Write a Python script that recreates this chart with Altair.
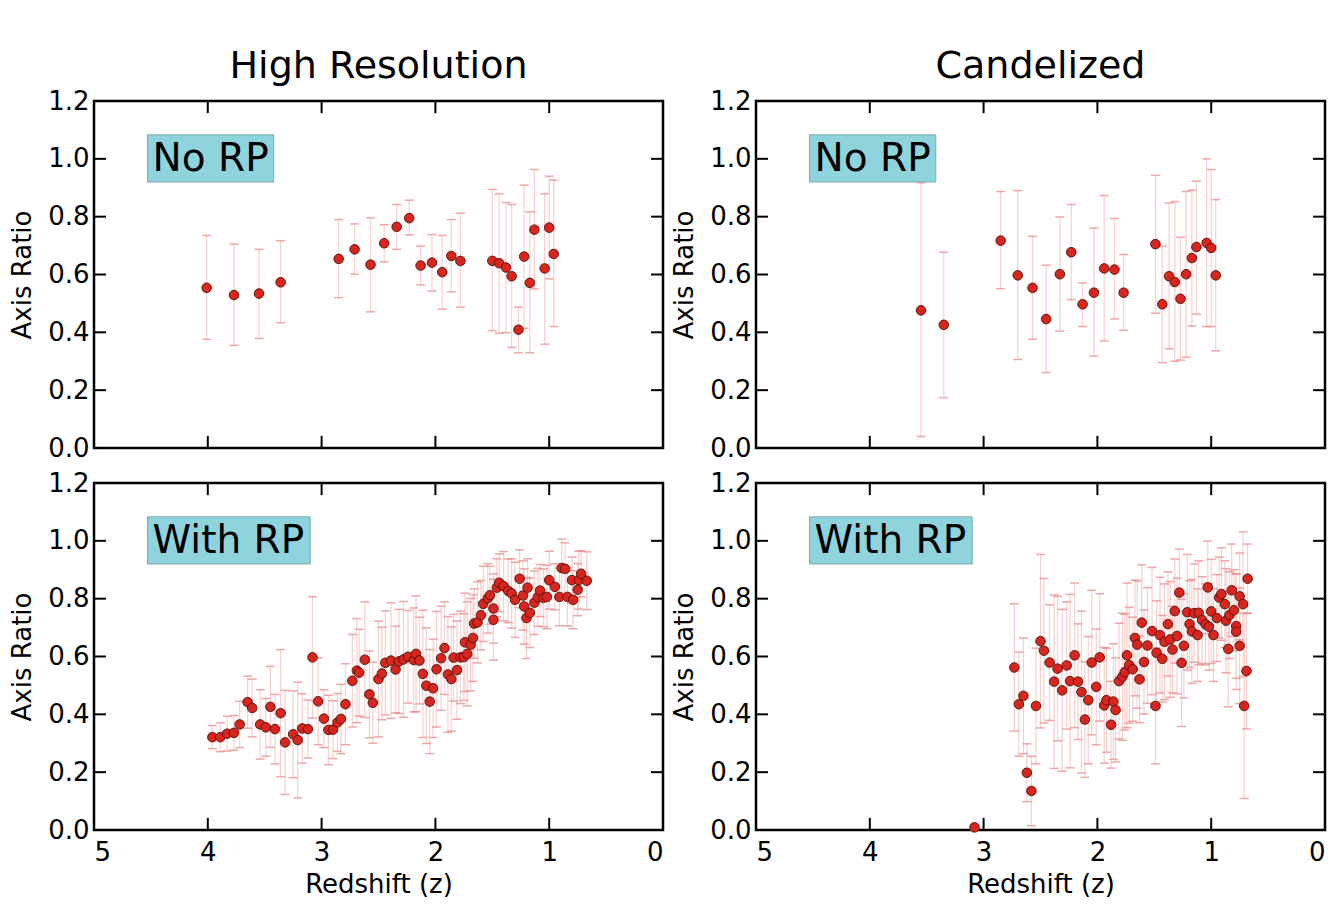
import altair as alt
import pandas as pd

FONT = "DejaVu Sans"

# ---------------- High Resolution, No RP ----------------
hr_norp_z = [4.01, 3.77, 3.55, 3.36, 2.85, 2.71, 2.57, 2.45, 2.34, 2.23, 2.13, 2.03, 1.94, 1.86, 1.78,
             1.50, 1.44, 1.38, 1.33, 1.27, 1.22, 1.17, 1.13, 1.04, 1.00, 0.96]
hr_norp_q = [0.554, 0.529, 0.534, 0.573, 0.654, 0.687, 0.634, 0.708, 0.765, 0.795, 0.631, 0.641, 0.608, 0.664, 0.647,
             0.647, 0.639, 0.624, 0.594, 0.409, 0.662, 0.571, 0.755, 0.621, 0.762, 0.671]
hr_norp_lo = [0.376, 0.355, 0.379, 0.433, 0.520, 0.601, 0.471, 0.644, 0.687, 0.737, 0.564, 0.543, 0.480, 0.540, 0.487,
              0.406, 0.397, 0.399, 0.348, 0.329, 0.414, 0.329, 0.550, 0.359, 0.585, 0.420]
hr_norp_hi = [0.735, 0.705, 0.687, 0.717, 0.790, 0.775, 0.796, 0.772, 0.842, 0.857, 0.698, 0.738, 0.735, 0.790, 0.812,
              0.894, 0.879, 0.849, 0.842, 0.487, 0.909, 0.817, 0.963, 0.879, 0.940, 0.926]

# ---------------- Candelized, No RP ----------------
ca_norp_z = [3.55, 3.35, 2.85, 2.70, 2.57, 2.45, 2.33, 2.23, 2.13, 2.03, 1.94, 1.85, 1.77,
             1.49, 1.43, 1.37, 1.32, 1.27, 1.22, 1.17, 1.13, 1.04, 1.00, 0.96]
ca_norp_q = [0.476, 0.426, 0.717, 0.597, 0.554, 0.446, 0.601, 0.677, 0.497, 0.537, 0.621, 0.617, 0.537,
             0.705, 0.497, 0.594, 0.574, 0.516, 0.601, 0.657, 0.695, 0.709, 0.692, 0.597]
ca_norp_lo = [0.040, 0.174, 0.551, 0.306, 0.376, 0.261, 0.404, 0.513, 0.420, 0.318, 0.370, 0.446, 0.407,
              0.466, 0.295, 0.343, 0.300, 0.304, 0.314, 0.422, 0.463, 0.420, 0.420, 0.336]
ca_norp_hi = [0.917, 0.677, 0.887, 0.890, 0.732, 0.632, 0.799, 0.842, 0.571, 0.760, 0.873, 0.794, 0.669,
              0.943, 0.698, 0.847, 0.852, 0.729, 0.887, 0.892, 0.923, 1.000, 0.963, 0.859]

# ---------------- High Resolution, With RP ----------------
hr_rp_z = [3.96, 3.89, 3.83, 3.77, 3.72, 3.65, 3.61, 3.54, 3.49, 3.45, 3.41, 3.36, 3.32, 3.25, 3.21, 3.17, 3.12,
           3.08, 3.03, 2.98, 2.94, 2.90, 2.86, 2.83, 2.79, 2.73, 2.69, 2.67, 2.62, 2.58, 2.55, 2.50, 2.47, 2.44,
           2.39, 2.35, 2.32, 2.28, 2.24, 2.19, 2.17, 2.14, 2.11, 2.08, 2.05, 2.02, 1.99, 1.95, 1.92, 1.89, 1.86,
           1.84, 1.81, 1.78, 1.75, 1.72, 1.74, 1.69, 1.67, 1.66, 1.63, 1.60, 1.58, 1.54, 1.52, 1.49, 1.49, 1.46,
           1.44, 1.40, 1.36, 1.33, 1.30, 1.26, 1.23, 1.22, 1.20, 1.19, 1.17, 1.13, 1.10, 1.08, 1.05, 1.02, 1.00,
           0.95, 0.91, 0.89, 0.86, 0.84, 0.80, 0.79, 0.75, 0.74, 0.72, 0.67]
hr_rp_q = [0.321, 0.321, 0.333, 0.336, 0.365, 0.442, 0.422, 0.365, 0.355, 0.426, 0.349, 0.404, 0.303, 0.331,
           0.311, 0.351, 0.349, 0.597, 0.445, 0.385, 0.346, 0.347, 0.372, 0.384, 0.435, 0.516, 0.551, 0.544,
           0.589, 0.469, 0.440, 0.522, 0.541, 0.578, 0.586, 0.555, 0.583, 0.590, 0.599, 0.588, 0.609, 0.586,
           0.540, 0.499, 0.444, 0.490, 0.556, 0.594, 0.629, 0.538, 0.522, 0.596, 0.553, 0.597, 0.598, 0.609,
           0.649, 0.641, 0.664, 0.714, 0.718, 0.743, 0.782, 0.801, 0.812, 0.766, 0.727, 0.838, 0.855, 0.843,
           0.827, 0.818, 0.796, 0.869, 0.811, 0.773, 0.733, 0.838, 0.751, 0.786, 0.805, 0.828, 0.803, 0.806,
           0.864, 0.841, 0.806, 0.906, 0.903, 0.806, 0.864, 0.796, 0.831, 0.864, 0.886, 0.862]
hr_rp_err = [0.04, 0.05, 0.06, 0.06, 0.08, 0.09, 0.10, 0.12, 0.10, 0.14, 0.12, 0.22, 0.18, 0.15, 0.20, 0.12, 0.10,
             0.21,
             0.15, 0.10, 0.12, 0.10, 0.10, 0.12, 0.14, 0.16, 0.18, 0.15, 0.20, 0.15,
             0.14, 0.20, 0.16, 0.18, 0.20, 0.15, 0.18, 0.20, 0.16, 0.18, 0.20, 0.15, 0.22, 0.20, 0.18, 0.17, 0.20,
             0.18, 0.16, 0.20, 0.18, 0.15, 0.17, 0.16, 0.15, 0.18, 0.17, 0.16, 0.15, 0.12,
             0.14, 0.12, 0.13, 0.12, 0.10, 0.12, 0.14, 0.10, 0.10, 0.12, 0.11, 0.12, 0.13, 0.10, 0.12, 0.13, 0.14,
             0.10, 0.12, 0.11, 0.10, 0.09, 0.10, 0.11, 0.10, 0.08, 0.10, 0.10, 0.09, 0.10, 0.08, 0.10, 0.09, 0.10,
             0.08, 0.10]

# ---------------- Candelized, With RP ----------------
ca_rp_z = [3.08, 2.73, 2.69, 2.65, 2.62, 2.58, 2.54, 2.50, 2.47, 2.42, 2.38, 2.35, 2.31, 2.27, 2.24, 2.20, 2.17,
           2.14, 2.11, 2.08, 2.05, 2.01, 1.98, 1.94, 1.92, 1.88, 1.86, 1.84, 1.81, 1.78, 1.76, 1.74, 1.72, 1.69,
           1.67, 1.65, 1.63, 1.61, 1.59, 1.56, 1.52, 1.49, 1.48, 1.45, 1.43, 1.41, 1.38, 1.36, 1.34, 1.32, 1.30,
           1.28, 1.26, 1.24, 1.21, 1.19, 1.17, 1.15, 1.12, 1.11, 1.08, 1.05, 1.03, 1.02, 1.00, 0.98, 0.95, 0.93,
           0.91, 0.88, 0.87, 0.85, 0.84, 0.82, 0.80, 0.78, 0.78, 0.75, 0.75, 0.72, 0.69, 0.71, 0.68]
ca_rp_q = [0.009, 0.562, 0.435, 0.464, 0.198, 0.135, 0.429, 0.653, 0.620, 0.579, 0.513, 0.558, 0.483, 0.569,
           0.515, 0.604, 0.513, 0.477, 0.382, 0.449, 0.579, 0.495, 0.597, 0.431, 0.449, 0.364, 0.444, 0.415,
           0.515, 0.530, 0.546, 0.604, 0.570, 0.556, 0.664, 0.641, 0.521, 0.717, 0.581, 0.638, 0.688, 0.429,
           0.613, 0.674, 0.592, 0.651, 0.712, 0.659, 0.624, 0.757, 0.671, 0.821, 0.578, 0.637, 0.753, 0.712,
           0.687, 0.750, 0.674, 0.751, 0.726, 0.711, 0.839, 0.703, 0.756, 0.674, 0.733, 0.804, 0.816, 0.781,
           0.724, 0.626, 0.743, 0.829, 0.760, 0.705, 0.686, 0.808, 0.637, 0.781, 0.550, 0.429, 0.869]
ca_rp_err = [0.01, 0.22, 0.18, 0.20, 0.10, 0.12, 0.20, 0.30, 0.25, 0.20,
             0.30, 0.25, 0.28, 0.22, 0.30, 0.25, 0.20, 0.28, 0.20, 0.22,
             0.25, 0.20, 0.22, 0.20, 0.18, 0.15, 0.20, 0.18, 0.20, 0.22,
             0.20, 0.25, 0.20, 0.18, 0.20, 0.22, 0.15, 0.20, 0.18, 0.20,
             0.22, 0.20, 0.18, 0.20, 0.15, 0.20, 0.18, 0.20, 0.15, 0.18,
             0.20, 0.15, 0.22, 0.18, 0.20, 0.15, 0.18, 0.17, 0.16, 0.18,
             0.15, 0.14, 0.16, 0.15, 0.18, 0.16, 0.15, 0.14, 0.16, 0.15,
             0.18, 0.20, 0.15, 0.16, 0.14, 0.18, 0.20, 0.15, 0.20, 0.25,
             0.20, 0.32, 0.12]

x_ticks = [5, 4, 3, 2, 1, 0]
y_ticks = [0.0, 0.2, 0.4, 0.6, 0.8, 1.0, 1.2]
inner_x = [4, 3, 2, 1]
inner_y = [0.2, 0.4, 0.6, 0.8, 1.0]

BAR_COLOR = "#f8d0ce"
CAP_COLOR = "#e88580"
PT_FILL = "#d7261d"
PT_STROKE = "#5a0c08"
BOX_FILL = "#8fd3dd"
BOX_STROKE = "#7aaab0"


def panel(z, q, lo, hi, label, box_right, title=None, show_x=False):
    df = pd.DataFrame({"z": z, "q": q, "lo": lo, "hi": hi})
    xs = alt.Scale(domain=[0, 5], reverse=True, nice=False, zero=False)
    ys = alt.Scale(domain=[0, 1.2], nice=False)
    if show_x:
        xaxis = alt.Axis(values=x_ticks, format="d", title="Redshift (z)", ticks=False, domain=False,
                         grid=False, labelPadding=9, titlePadding=6)
    else:
        xaxis = None
    yaxis = alt.Axis(values=y_ticks, format=".1f", title="Axis Ratio", ticks=False, domain=False,
                     grid=False, labelPadding=5, titlePadding=12)

    def X(f):
        return alt.X(f, type="quantitative", scale=xs, axis=xaxis)

    def Y(f):
        return alt.Y(f, type="quantitative", scale=ys, axis=yaxis)

    base = alt.Chart(df)
    bars = base.mark_rule(color=BAR_COLOR, strokeWidth=1.2).encode(x=X("z"), y=Y("lo"), y2="hi")
    cap_lo = base.mark_tick(color=CAP_COLOR, orient="horizontal", size=9, thickness=1.5).encode(x=X("z"), y=Y("lo"))
    cap_hi = base.mark_tick(color=CAP_COLOR, orient="horizontal", size=9, thickness=1.5).encode(x=X("z"), y=Y("hi"))
    pts = base.mark_circle(size=92, color=PT_FILL, opacity=1, stroke=PT_STROKE, strokeWidth=0.9).encode(
        x=X("z"), y=Y("q"))

    # inward frame ticks
    ly = pd.DataFrame({"z": [5.0] * len(inner_y), "z2": [4.895] * len(inner_y), "q": inner_y})
    ry = pd.DataFrame({"z": [0.0] * len(inner_y), "z2": [0.105] * len(inner_y), "q": inner_y})
    bx = pd.DataFrame({"z": inner_x, "q": [0.0] * len(inner_x), "q2": [0.042] * len(inner_x)})
    tx = pd.DataFrame({"z": inner_x, "q": [1.2] * len(inner_x), "q2": [1.158] * len(inner_x)})
    t1 = alt.Chart(ly).mark_rule(color="black", strokeWidth=2).encode(x=X("z"), x2="z2", y=Y("q"))
    t2 = alt.Chart(ry).mark_rule(color="black", strokeWidth=2).encode(x=X("z"), x2="z2", y=Y("q"))
    t3 = alt.Chart(bx).mark_rule(color="black", strokeWidth=2).encode(x=X("z"), y=Y("q"), y2="q2")
    t4 = alt.Chart(tx).mark_rule(color="black", strokeWidth=2).encode(x=X("z"), y=Y("q"), y2="q2")

    # label box
    box_df = pd.DataFrame({"z": [4.53], "z2": [box_right], "q": [0.92], "q2": [1.083],
                           "tz": [4.485], "tq": [0.958], "label": [label]})
    box = alt.Chart(box_df).mark_rect(fill=BOX_FILL, stroke=BOX_STROKE, strokeWidth=1).encode(
        x=X("z"), x2="z2", y=Y("q"), y2="q2")
    txt = alt.Chart(box_df).mark_text(align="left", baseline="alphabetic", fontSize=39, font=FONT,
                                      color="black").encode(x=X("tz"), y=Y("tq"), text="label:N")

    layers = alt.layer(bars, cap_lo, cap_hi, pts, t1, t2, t3, t4, box, txt)
    props = dict(width=569, height=347)
    if title:
        props["title"] = alt.TitleParams(title, fontSize=38, font=FONT, fontWeight="normal", anchor="middle",
                                         frame="group", offset=2, color="black")
    return layers.properties(**props)


tl = panel(hr_norp_z, hr_norp_q, hr_norp_lo, hr_norp_hi, "No RP", 3.42, title="High Resolution")
tr = panel(ca_norp_z, ca_norp_q, ca_norp_lo, ca_norp_hi, "No RP", 3.42, title="Candelized")
bl = panel(hr_rp_z, hr_rp_q, [a - b for a, b in zip(hr_rp_q, hr_rp_err)],
           [a + b for a, b in zip(hr_rp_q, hr_rp_err)], "With RP", 3.10, show_x=True)
br = panel(ca_rp_z, ca_rp_q, [max(0.0, a - b) for a, b in zip(ca_rp_q, ca_rp_err)],
           [a + b for a, b in zip(ca_rp_q, ca_rp_err)], "With RP", 3.10, show_x=True)

chart = alt.concat(tl, tr, bl, br, columns=2, spacing={"row": 5, "column": 4}).properties(
    padding={"left": 8, "top": 46, "right": 5, "bottom": 5},
    background="white",
).configure_view(
    stroke="black", strokeWidth=2.5
).configure_axis(
    labelFont=FONT, titleFont=FONT, labelFontSize=26, titleFontSize=26, labelColor="black",
    titleColor="black", titleFontWeight="normal"
)

chart.save("out.html", embed_options={"renderer": "svg", "actions": False})
